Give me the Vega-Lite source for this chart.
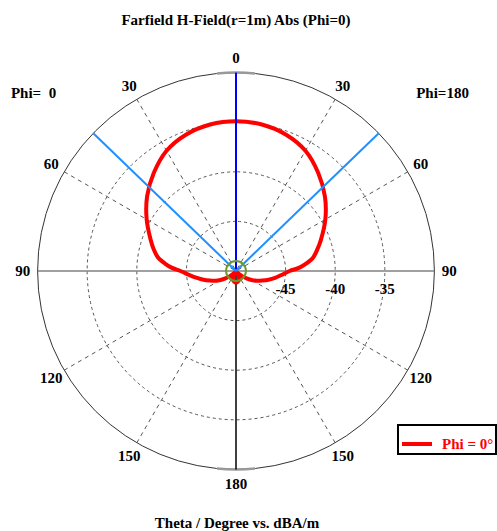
{
  "$schema": "https://vega.github.io/schema/vega-lite/v6.json",
  "width": 497,
  "height": 531,
  "autosize": {"type": "none"},
  "padding": 0,
  "background": "white",
  "config": {
    "view": {"stroke": null},
    "legend": {
      "orient": "none",
      "legendX": 398,
      "legendY": 425,
      "strokeColor": "#000000",
      "strokeWidth": 2,
      "fillColor": "#ffffff",
      "padding": 2,
      "symbolType": "stroke",
      "symbolSize": 900,
      "symbolStrokeWidth": 4,
      "labelFont": "Liberation Serif",
      "labelFontSize": 15,
      "labelFontWeight": "bold",
      "labelColor": "#ff0000",
      "labelOffset": 8
    }
  },
  "datasets": {
    "farfield": [
      {"angle": -180, "db": -48.8},
      {"angle": -170, "db": -48.9},
      {"angle": -160, "db": -49.1},
      {"angle": -150, "db": -49.5},
      {"angle": -140, "db": -49.8},
      {"angle": -135, "db": -49.6},
      {"angle": -130, "db": -49.2},
      {"angle": -125, "db": -48.7},
      {"angle": -120, "db": -48.2},
      {"angle": -115, "db": -47.7},
      {"angle": -110, "db": -47.2},
      {"angle": -105, "db": -46.6},
      {"angle": -100, "db": -46.0},
      {"angle": -95, "db": -45.3},
      {"angle": -90, "db": -44.4},
      {"angle": -87, "db": -43.5},
      {"angle": -84, "db": -42.8},
      {"angle": -80, "db": -42.0},
      {"angle": -75, "db": -41.4},
      {"angle": -70, "db": -40.85},
      {"angle": -60, "db": -39.6},
      {"angle": -50, "db": -38.3},
      {"angle": -40, "db": -37.1},
      {"angle": -30, "db": -36.0},
      {"angle": -20, "db": -35.35},
      {"angle": -10, "db": -35.0},
      {"angle": 0, "db": -34.9},
      {"angle": 10, "db": -35.0},
      {"angle": 20, "db": -35.35},
      {"angle": 30, "db": -36.0},
      {"angle": 40, "db": -37.1},
      {"angle": 50, "db": -38.3},
      {"angle": 60, "db": -39.6},
      {"angle": 70, "db": -40.9},
      {"angle": 75, "db": -41.5},
      {"angle": 80, "db": -42.1},
      {"angle": 84, "db": -42.9},
      {"angle": 87, "db": -43.6},
      {"angle": 90, "db": -44.6},
      {"angle": 95, "db": -45.4},
      {"angle": 100, "db": -46.0},
      {"angle": 105, "db": -46.6},
      {"angle": 110, "db": -47.2},
      {"angle": 115, "db": -47.7},
      {"angle": 120, "db": -48.2},
      {"angle": 125, "db": -48.7},
      {"angle": 130, "db": -49.2},
      {"angle": 135, "db": -49.6},
      {"angle": 140, "db": -49.8},
      {"angle": 150, "db": -49.5},
      {"angle": 160, "db": -49.1},
      {"angle": 170, "db": -48.9},
      {"angle": 180, "db": -48.8}
    ],
    "rings": [
      {"level": -45, "label": "-45"},
      {"level": -40, "label": "-40"},
      {"level": -35, "label": "-35"},
      {"level": -30, "label": "-30"}
    ],
    "outerTicks": [
      {"a0": -5.5, "a1": 5.5, "level": -30},
      {"a0": 174.5, "a1": 185.5, "level": -30}
    ],
    "spokes": [
      {"angle": -150}, {"angle": -120}, {"angle": -90}, {"angle": -60}, {"angle": -30},
      {"angle": 0}, {"angle": 30}, {"angle": 60}, {"angle": 90}, {"angle": 120},
      {"angle": 150}, {"angle": 180}
    ],
    "beamwidth": [{"angle": -46}, {"angle": 46}],
    "angleLabels": [
      {"angle": 0, "label": "0"},
      {"angle": -30, "label": "30"},
      {"angle": -60, "label": "60"},
      {"angle": -90, "label": "90"},
      {"angle": -120, "label": "120"},
      {"angle": -150, "label": "150"},
      {"angle": 180, "label": "180"},
      {"angle": 30, "label": "30"},
      {"angle": 60, "label": "60"},
      {"angle": 90, "label": "90"},
      {"angle": 120, "label": "120"},
      {"angle": 150, "label": "150"}
    ],
    "center": [{"level": -49}]
  },
  "layer": [
    {
      "data": {"name": "rings"},
      "transform": [{"filter": "datum.level < -30"}],
      "mark": {"type": "arc", "filled": false, "stroke": "#555555", "strokeWidth": 1, "strokeDash": [3, 3]},
      "encoding": {
        "x": {"datum": 0, "type": "quantitative", "scale": {"domain": [-23.79, 26.31], "nice": false, "zero": false}, "axis": null},
        "y": {"datum": 0, "type": "quantitative", "scale": {"domain": [-26.21, 27.32], "nice": false, "zero": false}, "axis": null},
        "radius": {"field": "level", "type": "quantitative", "stack": null, "scale": {"type": "linear", "domain": [-50, -30], "range": [0, 198.4], "zero": false, "nice": false}}
      }
    },
    {
      "data": {"name": "rings"},
      "transform": [{"filter": "datum.level == -30"}],
      "mark": {"type": "arc", "filled": false, "stroke": "#333333", "strokeWidth": 1},
      "encoding": {
        "x": {"datum": 0, "type": "quantitative", "scale": {"domain": [-23.79, 26.31], "nice": false, "zero": false}, "axis": null},
        "y": {"datum": 0, "type": "quantitative", "scale": {"domain": [-26.21, 27.32], "nice": false, "zero": false}, "axis": null},
        "radius": {"field": "level", "type": "quantitative", "stack": null, "scale": {"type": "linear", "domain": [-50, -30], "range": [0, 198.4], "zero": false, "nice": false}}
      }
    },
    {
      "data": {"name": "outerTicks"},
      "mark": {"type": "arc", "filled": false, "stroke": "#999999", "strokeWidth": 2.5},
      "encoding": {
        "x": {"datum": 0, "type": "quantitative", "scale": {"domain": [-23.79, 26.31], "nice": false, "zero": false}, "axis": null},
        "y": {"datum": 0, "type": "quantitative", "scale": {"domain": [-26.21, 27.32], "nice": false, "zero": false}, "axis": null},
        "theta": {"field": "a0", "type": "quantitative", "stack": null, "scale": {"type": "linear", "domain": [0, 360], "range": [0, 6.283185], "zero": false, "nice": false}},
        "theta2": {"field": "a1"},
        "radius": {"field": "level", "type": "quantitative", "stack": null, "scale": {"type": "linear", "domain": [-50, -30], "range": [0, 198.4], "zero": false, "nice": false}},
        "radius2": {"field": "level"}
      }
    },
    {
      "data": {"name": "spokes"},
      "transform": [
        {"filter": "datum.angle % 90 != 0"},
        {"calculate": "20 * sin(datum.angle * PI / 180)", "as": "ex"},
        {"calculate": "20 * cos(datum.angle * PI / 180)", "as": "ey"}
      ],
      "mark": {"type": "rule", "stroke": "#555555", "strokeWidth": 1, "strokeDash": [4, 4]},
      "encoding": {
        "x": {"field": "ex", "type": "quantitative", "scale": {"domain": [-23.79, 26.31], "nice": false, "zero": false}, "axis": null},
        "y": {"field": "ey", "type": "quantitative", "scale": {"domain": [-26.21, 27.32], "nice": false, "zero": false}, "axis": null},
        "x2": {"datum": 0},
        "y2": {"datum": 0}
      }
    },
    {
      "data": {"name": "spokes"},
      "transform": [
        {"filter": "abs(datum.angle) == 90"},
        {"calculate": "20 * sin(datum.angle * PI / 180)", "as": "ex"},
        {"calculate": "20 * cos(datum.angle * PI / 180)", "as": "ey"}
      ],
      "mark": {"type": "rule", "stroke": "#808080", "strokeWidth": 1.5},
      "encoding": {
        "x": {"field": "ex", "type": "quantitative", "scale": {"domain": [-23.79, 26.31], "nice": false, "zero": false}, "axis": null},
        "y": {"field": "ey", "type": "quantitative", "scale": {"domain": [-26.21, 27.32], "nice": false, "zero": false}, "axis": null},
        "x2": {"datum": 0},
        "y2": {"datum": 0}
      }
    },
    {
      "data": {"name": "spokes"},
      "transform": [
        {"filter": "datum.angle == 180"},
        {"calculate": "20 * sin(datum.angle * PI / 180)", "as": "ex"},
        {"calculate": "20 * cos(datum.angle * PI / 180)", "as": "ey"}
      ],
      "mark": {"type": "rule", "stroke": "#000000", "strokeWidth": 1.5},
      "encoding": {
        "x": {"field": "ex", "type": "quantitative", "scale": {"domain": [-23.79, 26.31], "nice": false, "zero": false}, "axis": null},
        "y": {"field": "ey", "type": "quantitative", "scale": {"domain": [-26.21, 27.32], "nice": false, "zero": false}, "axis": null},
        "x2": {"datum": 0},
        "y2": {"datum": 0}
      }
    },
    {
      "data": {"name": "farfield"},
      "transform": [
        {"calculate": "(datum.db + 50) * sin(datum.angle * PI / 180)", "as": "px"},
        {"calculate": "(datum.db + 50) * cos(datum.angle * PI / 180)", "as": "py"}
      ],
      "mark": {"type": "line", "strokeWidth": 4, "interpolate": "catmull-rom"},
      "encoding": {
        "x": {"field": "px", "type": "quantitative", "scale": {"domain": [-23.79, 26.31], "nice": false, "zero": false}, "axis": null},
        "y": {"field": "py", "type": "quantitative", "scale": {"domain": [-26.21, 27.32], "nice": false, "zero": false}, "axis": null},
        "order": {"field": "angle", "type": "quantitative"},
        "color": {"datum": "Phi = 0°", "type": "nominal", "scale": {"range": ["#ff0000"]}, "legend": {"title": null}}
      }
    },
    {
      "data": {"name": "spokes"},
      "transform": [
        {"filter": "datum.angle == 0"},
        {"calculate": "20 * sin(datum.angle * PI / 180)", "as": "ex"},
        {"calculate": "20 * cos(datum.angle * PI / 180)", "as": "ey"}
      ],
      "mark": {"type": "rule", "stroke": "#0000ff", "strokeWidth": 2},
      "encoding": {
        "x": {"field": "ex", "type": "quantitative", "scale": {"domain": [-23.79, 26.31], "nice": false, "zero": false}, "axis": null},
        "y": {"field": "ey", "type": "quantitative", "scale": {"domain": [-26.21, 27.32], "nice": false, "zero": false}, "axis": null},
        "x2": {"datum": 0},
        "y2": {"datum": 0}
      }
    },
    {
      "data": {"name": "beamwidth"},
      "transform": [
        {"calculate": "20 * sin(datum.angle * PI / 180)", "as": "ex"},
        {"calculate": "20 * cos(datum.angle * PI / 180)", "as": "ey"}
      ],
      "mark": {"type": "rule", "stroke": "#1e90ff", "strokeWidth": 2},
      "encoding": {
        "x": {"field": "ex", "type": "quantitative", "scale": {"domain": [-23.79, 26.31], "nice": false, "zero": false}, "axis": null},
        "y": {"field": "ey", "type": "quantitative", "scale": {"domain": [-26.21, 27.32], "nice": false, "zero": false}, "axis": null},
        "x2": {"datum": 0},
        "y2": {"datum": 0}
      }
    },
    {
      "data": {"name": "center"},
      "mark": {"type": "arc", "filled": false, "stroke": "#6b9a2b", "strokeWidth": 2},
      "encoding": {
        "x": {"datum": 0, "type": "quantitative", "scale": {"domain": [-23.79, 26.31], "nice": false, "zero": false}, "axis": null},
        "y": {"datum": 0, "type": "quantitative", "scale": {"domain": [-26.21, 27.32], "nice": false, "zero": false}, "axis": null},
        "radius": {"field": "level", "type": "quantitative", "stack": null, "scale": {"type": "linear", "domain": [-50, -30], "range": [0, 198.4], "zero": false, "nice": false}}
      }
    },
    {
      "data": {"name": "angleLabels"},
      "transform": [
        {"calculate": "21.5 * sin(datum.angle * PI / 180)", "as": "lx"},
        {"calculate": "21.5 * cos(datum.angle * PI / 180)", "as": "ly"}
      ],
      "mark": {"type": "text", "font": "Liberation Serif", "fontSize": 15, "fontWeight": "bold", "color": "#000000", "align": "center", "baseline": "middle"},
      "encoding": {
        "x": {"field": "lx", "type": "quantitative", "scale": {"domain": [-23.79, 26.31], "nice": false, "zero": false}, "axis": null},
        "y": {"field": "ly", "type": "quantitative", "scale": {"domain": [-26.21, 27.32], "nice": false, "zero": false}, "axis": null},
        "text": {"field": "label"}
      }
    },
    {
      "data": {"name": "rings"},
      "transform": [
        {"filter": "datum.level < -30"},
        {"calculate": "datum.level + 50", "as": "rx"}
      ],
      "mark": {"type": "text", "font": "Liberation Serif", "fontSize": 15, "fontWeight": "bold", "color": "#000000", "align": "center", "baseline": "middle", "dy": 18},
      "encoding": {
        "x": {"field": "rx", "type": "quantitative", "scale": {"domain": [-23.79, 26.31], "nice": false, "zero": false}, "axis": null},
        "y": {"datum": 0, "type": "quantitative", "scale": {"domain": [-26.21, 27.32], "nice": false, "zero": false}, "axis": null},
        "text": {"field": "label"}
      }
    },
    {
      "data": {"values": [{}]},
      "mark": {"type": "text", "font": "Liberation Serif", "fontSize": 15, "fontWeight": "bold", "color": "#000000", "align": "center", "baseline": "middle"},
      "encoding": {
        "x": {"datum": 0.0, "type": "quantitative", "scale": {"domain": [-23.79, 26.31], "nice": false, "zero": false}, "axis": null},
        "y": {"datum": 25.3, "type": "quantitative", "scale": {"domain": [-26.21, 27.32], "nice": false, "zero": false}, "axis": null},
        "text": {"value": "Farfield H-Field(r=1m) Abs (Phi=0)"}
      }
    },
    {
      "data": {"values": [{}]},
      "mark": {"type": "text", "font": "Liberation Serif", "fontSize": 15, "fontWeight": "bold", "color": "#000000", "align": "center", "baseline": "middle"},
      "encoding": {
        "x": {"datum": -20.41, "type": "quantitative", "scale": {"domain": [-23.79, 26.31], "nice": false, "zero": false}, "axis": null},
        "y": {"datum": 17.94, "type": "quantitative", "scale": {"domain": [-26.21, 27.32], "nice": false, "zero": false}, "axis": null},
        "text": {"value": "Phi=\u00a0 0"}
      }
    },
    {
      "data": {"values": [{}]},
      "mark": {"type": "text", "font": "Liberation Serif", "fontSize": 15, "fontWeight": "bold", "color": "#000000", "align": "center", "baseline": "middle"},
      "encoding": {
        "x": {"datum": 20.82, "type": "quantitative", "scale": {"domain": [-23.79, 26.31], "nice": false, "zero": false}, "axis": null},
        "y": {"datum": 17.94, "type": "quantitative", "scale": {"domain": [-26.21, 27.32], "nice": false, "zero": false}, "axis": null},
        "text": {"value": "Phi=180"}
      }
    },
    {
      "data": {"values": [{}]},
      "mark": {"type": "text", "font": "Liberation Serif", "fontSize": 15, "fontWeight": "bold", "color": "#000000", "align": "center", "baseline": "middle"},
      "encoding": {
        "x": {"datum": 0.1, "type": "quantitative", "scale": {"domain": [-23.79, 26.31], "nice": false, "zero": false}, "axis": null},
        "y": {"datum": -25.4, "type": "quantitative", "scale": {"domain": [-26.21, 27.32], "nice": false, "zero": false}, "axis": null},
        "text": {"value": "Theta / Degree vs. dBA/m"}
      }
    }
  ]
}
